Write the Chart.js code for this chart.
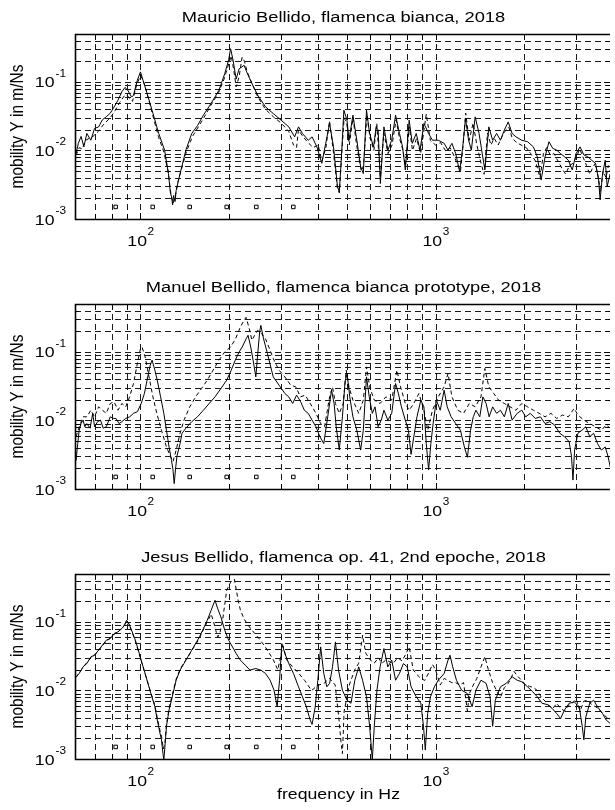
<!DOCTYPE html>
<html>
<head>
<meta charset="utf-8">
<script src="https://cdn.jsdelivr.net/npm/chart.js@4/dist/chart.umd.min.js"></script>
<style>
  body { margin: 0; background: #fff; overflow: hidden; }
  canvas { position: absolute; left: 0; }
</style>
</head>
<body>
<canvas id="p1" width="615" height="270" style="top:0px"></canvas>
<canvas id="p2" width="615" height="270" style="top:270px"></canvas>
<canvas id="p3" width="615" height="270" style="top:540px"></canvas>
<script>
// axis ranges and grid positions
const xRange = [60, 3900];
const yRange = [0.001, 0.5];
const xGrid = [70, 80, 90, 100, 200, 300, 400, 500, 600, 700, 800, 900, 1000, 2000, 3000];
const yGrid = [0.002, 0.003, 0.004, 0.005, 0.006, 0.007, 0.008, 0.009, 0.01,
               0.02, 0.03, 0.04, 0.05, 0.06, 0.07, 0.08, 0.09, 0.1, 0.2, 0.3, 0.4];
const xMajor = [100, 1000];
const yMajor = [0.001, 0.01, 0.1];
const xTickLabels = [['10', '2'], ['10', '3']];
const yTickLabels = [['10', '-3'], ['10', '-2'], ['10', '-1']];

// open string frequencies marked by the small squares
const stringFreqs = [82.41, 110, 146.83, 196, 246.94, 329.63];
const stringLevel = 0.0015;

const titles = [
  'Mauricio Bellido, flamenca bianca, 2018',
  'Manuel Bellido, flamenca bianca prototype, 2018',
  'Jesus Bellido, flamenca op. 41, 2nd epoche, 2018'
];

// [frequency Hz, mobility m/Ns]
const mauricioSolid = [
  [60.5,0.009],[61.6,0.0127],[62.9,0.016],[64.3,0.0113],[65.8,0.0177],[67.9,0.0141],[69.9,0.021],[72.1,0.022],
  [74.3,0.028],[76.6,0.031],[79,0.035],[81.4,0.043],[83.9,0.054],[86.5,0.072],[88.6,0.083],[90.5,0.076],
  [93.3,0.06],[94.7,0.064],[97.6,0.106],[100,0.14],[102,0.106],[105.3,0.068],[110.2,0.035],[115.3,0.0177],
  [120.7,0.0101],[124.4,0.0046],[126.3,0.0024],[127.5,0.0021],[128.5,0.0016],[129.5,0.0022],[131,0.0018],
  [132.1,0.0026],[136.2,0.0046],[142.5,0.0101],[149.2,0.0177],[156,0.023],[163.4,0.0327],[173.4,0.0483],
  [184.5,0.0757],[193,0.132],[199,0.21],[202,0.305],[206,0.207],[211,0.11],[215.9,0.155],[224.5,0.175],
  [229,0.14],[238.6,0.0946],[249.7,0.064],[265.3,0.0432],[281.8,0.0346],[299.5,0.0277],[318,0.0221],
  [333,0.0158],[343.2,0.0221],[353.8,0.0177],[370.3,0.0141],[381.6,0.0158],[396,0.0113],[411.6,0.0065],
  [424.3,0.0127],[437.4,0.0247],[451,0.0113],[465,0.003],[471.8,0.0025],[479,0.0072],[489,0.0387],
  [501,0.0277],[508.8,0.0141],[524.7,0.0327],[541,0.0141],[557.3,0.0058],[569,0.0046],[583.4,0.0387],
  [597.8,0.0177],[616,0.0113],[629.3,0.0221],[638.9,0.0198],[650,0.0033],[668.4,0.0221],[689,0.0101],
  [710,0.0141],[732,0.0327],[754.5,0.0177],[773,0.0113],[789.6,0.0052],[813.8,0.0277],[833.7,0.0127],
  [860,0.0177],[886,0.0101],[913,0.0247],[947,0.0177],[976,0.0141],[1021,0.0141],[1069,0.0127],
  [1102,0.0101],[1136,0.0127],[1170,0.009],[1207,0.0049],[1236,0.0113],[1263,0.0292],[1294,0.0141],
  [1322,0.0101],[1362,0.0309],[1404,0.0177],[1439,0.009],[1469,0.0052],[1515,0.0221],[1561,0.0141],
  [1610,0.0177],[1659,0.0141],[1710,0.0198],[1763,0.0261],[1817,0.0177],[1872,0.0158],[1959,0.0141],
  [2050,0.0134],[2145,0.0113],[2211,0.0081],[2280,0.0037],[2350,0.0081],[2423,0.0134],[2496,0.0107],
  [2573,0.0101],[2652,0.009],[2735,0.0081],[2818,0.0072],[2905,0.0052],[2994,0.009],[3087,0.0113],
  [3181,0.0086],[3279,0.0081],[3380,0.0072],[3484,0.0065],[3570,0.0037],[3610,0.0019],[3680,0.0046],
  [3758,0.0072],[3815,0.003],[3908,0.0046]
];
const mauricioDashed = [
  [60.5,0.0085],[62,0.011],[63.5,0.0105],[65,0.014],[67,0.015],[69,0.016],[72,0.019],[75,0.024],[79,0.03],
  [82,0.038],[85,0.05],[88,0.062],[90,0.064],[92,0.057],[94,0.052],[97,0.09],[100,0.125],[103,0.095],
  [106,0.06],[110,0.033],[115,0.016],[120,0.0095],[124,0.005],[127,0.0022],[129,0.0017],[131,0.0021],
  [134,0.0035],[138,0.0055],[143,0.0095],[150,0.016],[157,0.022],[164,0.03],[173,0.045],[184,0.07],
  [192,0.11],[198,0.17],[203,0.24],[207,0.15],[211,0.085],[216,0.12],[221,0.23],[225,0.2],[230,0.14],
  [240,0.09],[250,0.06],[265,0.04],[282,0.031],[300,0.025],[318,0.019],[330,0.012],[338,0.011],[343,0.02],
  [355,0.016],[370,0.013],[385,0.011],[400,0.012],[412,0.007],[425,0.011],[437,0.027],[450,0.01],
  [465,0.0028],[472,0.0024],[480,0.008],[490,0.03],[500,0.025],[510,0.012],[525,0.03],[540,0.012],
  [560,0.005],[570,0.006],[585,0.033],[600,0.015],[618,0.01],[632,0.025],[650,0.004],[668,0.018],
  [690,0.009],[712,0.012],[735,0.028],[755,0.015],[775,0.01],[790,0.006],[815,0.022],[835,0.01],
  [862,0.015],[890,0.009],[930,0.034],[960,0.014],[1000,0.012],[1040,0.013],[1080,0.01],[1120,0.011],
  [1160,0.008],[1190,0.006],[1215,0.005],[1240,0.012],[1265,0.035],[1300,0.014],[1340,0.025],[1380,0.012],
  [1420,0.007],[1460,0.0045],[1500,0.018],[1540,0.012],[1580,0.015],[1630,0.012],[1680,0.016],[1730,0.02],
  [1770,0.022],[1820,0.015],[1880,0.013],[1950,0.012],[2030,0.011],[2100,0.009],[2180,0.007],[2260,0.004],
  [2320,0.009],[2380,0.011],[2450,0.0085],[2520,0.009],[2600,0.007],[2680,0.0055],[2760,0.0045],
  [2840,0.006],[2920,0.0065],[3000,0.008],[3080,0.0105],[3160,0.008],[3250,0.006],[3330,0.0045],
  [3400,0.0055],[3480,0.0065],[3560,0.004],[3620,0.0025],[3700,0.005],[3780,0.004],[3850,0.006],[3908,0.005]
];

const manuelSolid = [
  [60.5,0.0026],[61.3,0.0046],[62,0.0072],[62.9,0.009],[63.9,0.0101],[64.8,0.0081],[65.8,0.009],[67.5,0.0077],
  [68.9,0.0127],[69.9,0.0081],[71.6,0.0096],[73.2,0.0101],[74.8,0.0077],[76.6,0.0081],[79,0.0113],
  [80.9,0.0107],[82.6,0.0107],[84.6,0.009],[86.5,0.0096],[89.1,0.0107],[91.9,0.0113],[94.7,0.0127],
  [97.6,0.0134],[100.6,0.0177],[103.1,0.0247],[105.3,0.0387],[107.9,0.064],[109.5,0.0757],[111.9,0.0541],
  [114,0.0387],[117,0.0221],[120,0.0127],[122.5,0.0072],[125,0.0041],[127.4,0.0026],[128.9,0.0019],
  [130.1,0.0012],[131.4,0.0019],[132.9,0.003],[136.2,0.0046],[138.3,0.0065],[142.5,0.0077],[149.2,0.0096],
  [156,0.0113],[163.4,0.0141],[171,0.0177],[178.9,0.0221],[187.3,0.0292],[196,0.0387],[203,0.0541],
  [209.5,0.0757],[216,0.1],[221.2,0.118],[228,0.155],[231.5,0.175],[236.4,0.118],[240.8,0.0757],[246,0.0432],
  [249.7,0.0946],[253.5,0.196],[255.8,0.244],[261.3,0.155],[269.3,0.0946],[281.8,0.0432],[294.9,0.0327],
  [308.7,0.0247],[318,0.0221],[328,0.0177],[338,0.0234],[348.5,0.019],[359.2,0.0141],[370.3,0.0127],
  [381.6,0.0101],[393.3,0.0081],[405.4,0.0058],[417.9,0.0046],[431,0.0113],[444.1,0.0277],[453,0.0177],
  [460.5,0.0081],[471.8,0.0037],[483.4,0.0113],[493.6,0.0366],[501.2,0.0483],[512,0.0221],[524.7,0.0113],
  [541,0.0072],[557.3,0.0037],[569,0.0072],[583.4,0.0432],[596,0.0221],[610.5,0.0127],[623.5,0.0158],
  [638.9,0.0081],[654.5,0.0101],[668.4,0.0141],[689,0.0101],[710.3,0.0127],[732,0.0346],[748,0.0247],
  [766,0.0158],[789.6,0.0101],[808.9,0.0072],[826,0.0032],[844,0.0058],[864.9,0.0113],[891.3,0.0198],
  [913,0.0158],[930,0.0046],[947,0.0019],[964,0.0046],[981,0.009],[1006,0.0198],[1037,0.0141],
  [1069,0.0277],[1095,0.0158],[1129,0.0113],[1170,0.009],[1214,0.0072],[1252,0.0041],[1282,0.0029],
  [1314,0.0072],[1342,0.0113],[1370,0.0141],[1412,0.0113],[1447,0.0221],[1483,0.0177],[1519,0.0113],
  [1561,0.0158],[1610,0.0127],[1659,0.0141],[1710,0.0113],[1763,0.0177],[1817,0.0101],[1890,0.0127],
  [1959,0.0141],[2020,0.0113],[2094,0.0127],[2177,0.0107],[2265,0.0113],[2350,0.009],[2437,0.0096],
  [2530,0.0086],[2636,0.0065],[2735,0.0058],[2835,0.0049],[2888,0.003],[2922,0.00135],[2958,0.0037],
  [3036,0.0065],[3132,0.0072],[3229,0.0081],[3330,0.0058],[3432,0.0065],[3537,0.0046],[3646,0.0037],
  [3758,0.0041],[3840,0.003],[3908,0.0021]
];
const manuelDashed = [
  [60.5,0.0058],[62,0.0081],[63.9,0.0113],[65.8,0.0113],[67.9,0.0141],[69.9,0.0113],[72.1,0.0158],
  [74.3,0.0141],[76.6,0.0127],[79,0.0177],[81.4,0.0187],[83.9,0.0141],[86.5,0.0177],[89.1,0.0158],
  [91.9,0.0221],[94.7,0.0346],[97.6,0.0676],[100,0.112],[101.2,0.118],[103.7,0.0846],[106.9,0.0432],
  [110.2,0.0221],[113.6,0.0127],[117.8,0.0072],[122.5,0.0041],[126.3,0.003],[128.9,0.0025],[132.1,0.0037],
  [136.2,0.0065],[140.4,0.0101],[146.9,0.0158],[153.8,0.0221],[160.9,0.0292],[168.4,0.0387],[176.2,0.0541],
  [184.5,0.0757],[193,0.1],[202,0.118],[210,0.155],[218,0.231],[224.5,0.29],[228,0.32],[233.6,0.22],
  [238.6,0.148],[243.8,0.175],[249.7,0.207],[257.3,0.185],[265.3,0.155],[273.5,0.112],[281.8,0.08],
  [294.9,0.0541],[308.7,0.0432],[323,0.0327],[336,0.0309],[348.5,0.0221],[361.4,0.0234],[376,0.0177],
  [393.3,0.0127],[408,0.009],[420.6,0.0081],[437.4,0.0221],[447.5,0.0309],[457.7,0.0177],[471.8,0.0127],
  [486.3,0.0177],[498,0.0541],[508.8,0.0309],[524.7,0.0198],[549,0.0127],[569,0.0198],[583.4,0.0605],
  [598,0.0309],[619.8,0.0198],[648.6,0.0177],[678.6,0.0221],[710.3,0.0198],[739.5,0.0541],[761,0.0309],
  [789.6,0.0177],[813.8,0.0141],[844,0.0177],[878,0.0247],[913,0.0141],[941,0.0072],[976,0.0141],
  [1021,0.0221],[1069,0.0309],[1102,0.0483],[1136,0.0221],[1189,0.0141],[1244,0.0127],[1302,0.0177],
  [1362,0.0158],[1425,0.0221],[1469,0.0572],[1515,0.0309],[1575,0.0247],[1634,0.0198],[1710,0.0177],
  [1789,0.0158],[1872,0.0141],[1959,0.0177],[2050,0.0158],[2145,0.0141],[2243,0.0127],[2350,0.0113],
  [2460,0.0127],[2573,0.0107],[2693,0.012],[2818,0.0113],[2949,0.015],[3036,0.012],[3181,0.0101],
  [3330,0.009],[3484,0.0081],[3646,0.0072],[3786,0.0086],[3908,0.0077]
];

const jesusSolid = [
  [60.5,0.0158],[62,0.0177],[63.9,0.0221],[65.8,0.0247],[67.9,0.0309],[69.9,0.0327],[72.1,0.0387],
  [74.3,0.0457],[76.6,0.0541],[79,0.0572],[81.4,0.0676],[83.9,0.0716],[86.5,0.08],[88.3,0.0895],
  [89.7,0.106],[91.3,0.0946],[93.3,0.0757],[96.1,0.0541],[99.1,0.0346],[102.1,0.0221],[105.3,0.0141],
  [108.5,0.009],[111.9,0.0058],[114,0.0037],[116.4,0.0024],[117.8,0.0019],[119.2,0.0012],[120,0.00097],
  [121,0.0015],[122.5,0.003],[125,0.0052],[128.2,0.0081],[132.1,0.0141],[136.2,0.0198],[140.4,0.0247],
  [144.7,0.0309],[149.2,0.0387],[153.8,0.0483],[158.5,0.0605],[163.4,0.08],[168.4,0.106],[173.6,0.148],
  [178.9,0.207],[182.8,0.155],[187.3,0.118],[193,0.0757],[199,0.0541],[205,0.0432],[211,0.0346],
  [218,0.0277],[226.5,0.0234],[235,0.0198],[246,0.0209],[255.8,0.0198],[265.3,0.0177],[275,0.0141],
  [283.5,0.0101],[290.5,0.0058],[296,0.0141],[301.3,0.0483],[308.7,0.0346],[318,0.0247],[330,0.0177],
  [343.2,0.0113],[353.8,0.0081],[364.7,0.0058],[376,0.0037],[381.6,0.0032],[391,0.0058],[399,0.0141],
  [408,0.0432],[418,0.0177],[428,0.0113],[437.4,0.0127],[447.5,0.0221],[457.7,0.0511],[469,0.0198],
  [483.4,0.0101],[501.2,0.0072],[516.8,0.0065],[532.7,0.0141],[549,0.0221],[565.7,0.0141],[583.4,0.0081],
  [597.8,0.003],[610.5,0.00097],[619.8,0.003],[633,0.0101],[648.6,0.0221],[668.4,0.0409],[689,0.0221],
  [710.3,0.0277],[732,0.0141],[754.5,0.0177],[778,0.0247],[801.6,0.0221],[826,0.0113],[860,0.0081],
  [891.3,0.0065],[910,0.003],[923,0.00135],[940,0.0046],[961,0.0081],[991,0.0113],[1021,0.0141],
  [1069,0.0177],[1102,0.0277],[1119,0.0327],[1143,0.0221],[1177,0.0141],[1225,0.0101],[1282,0.009],
  [1330,0.0058],[1370,0.0101],[1425,0.0141],[1483,0.0127],[1530,0.0081],[1561,0.003],[1594,0.0072],
  [1659,0.0113],[1736,0.0127],[1817,0.0158],[1890,0.0141],[1959,0.0134],[2050,0.0113],[2132,0.0096],
  [2211,0.0081],[2294,0.0065],[2400,0.0062],[2480,0.0055],[2573,0.0046],[2652,0.0039],[2735,0.0052],
  [2835,0.0065],[2949,0.0068],[3067,0.0058],[3140,0.003],[3181,0.0019],[3229,0.0041],[3330,0.0065],
  [3432,0.0072],[3537,0.0058],[3680,0.0046],[3786,0.0037],[3908,0.0033]
];
const jesusDashed = [
  [60.5,0.0155],[62,0.018],[64,0.022],[66,0.026],[68,0.03],[70,0.033],[72,0.038],[74.3,0.045],[76.6,0.052],
  [79,0.058],[81.4,0.066],[84,0.072],[86.5,0.081],[88.3,0.09],[89.7,0.104],[91.3,0.092],[93.3,0.074],
  [96,0.053],[99,0.034],[102,0.022],[105,0.0145],[108.5,0.0092],[112,0.006],[114,0.004],[116.5,0.0026],
  [118,0.0021],[119.5,0.0014],[121,0.0017],[122.5,0.0032],[125,0.0055],[128,0.0085],[132,0.0145],
  [136,0.02],[140,0.025],[145,0.031],[149,0.038],[154,0.047],[158.5,0.058],[163.4,0.077],[168.4,0.1],
  [173.6,0.13],[177,0.1],[180,0.075],[182.8,0.06],[186,0.07],[190,0.11],[196,0.29],[202,0.38],[208,0.42],
  [211,0.3],[214.6,0.2],[218,0.15],[224.5,0.11],[236,0.08],[250,0.06],[265,0.043],[282,0.028],[292,0.02],
  [298,0.03],[304,0.045],[313,0.028],[328,0.022],[343,0.018],[360,0.014],[380,0.01],[400,0.012],
  [417,0.0125],[437,0.015],[457,0.012],[470,0.004],[478,0.0018],[483.4,0.0012],[490,0.005],[510,0.012],
  [532,0.02],[549,0.025],[566,0.064],[580,0.035],[600,0.028],[620,0.025],[640,0.03],[658,0.025],[680,0.028],
  [700,0.026],[720,0.025],[744,0.03],[770,0.027],[790,0.033],[814,0.043],[840,0.02],[865,0.017],[891,0.015],
  [919,0.014],[947,0.018],[976,0.024],[1000,0.02],[1037,0.012],[1070,0.015],[1100,0.014],[1136,0.013],
  [1170,0.013],[1207,0.012],[1244,0.013],[1282,0.005],[1302,0.009],[1342,0.012],[1380,0.015],[1425,0.022],
  [1469,0.031],[1510,0.02],[1560,0.013],[1610,0.01],[1660,0.008],[1710,0.011],[1760,0.0125],[1800,0.015],
  [1844,0.019],[1900,0.016],[1960,0.014],[2020,0.012],[2080,0.0115],[2150,0.011],[2211,0.01],[2280,0.008],
  [2350,0.007],[2420,0.006],[2500,0.0055],[2573,0.0065],[2650,0.0055],[2735,0.005],[2818,0.006],
  [2905,0.0065],[2994,0.0075],[3087,0.005],[3181,0.007],[3280,0.0072],[3380,0.0062],[3484,0.0058],
  [3591,0.0052],[3700,0.0045],[3815,0.004],[3908,0.0037]
];

const FONT = '"Liberation Sans", Arial, Helvetica, sans-serif';
const STRETCH = 1.18;   // the source text is a bit wide

// horizontal text, stretched like the source
function wideText(ctx, str, x, y, size, align) {
  ctx.save();
  ctx.font = size + 'px ' + FONT;
  ctx.translate(x, y);
  ctx.scale(STRETCH, 1);
  ctx.textAlign = align;
  ctx.textBaseline = 'alphabetic';
  ctx.fillText(str, 0, 0);
  ctx.restore();
}
function wideWidth(ctx, str, size) {
  ctx.font = size + 'px ' + FONT;
  return ctx.measureText(str).width * STRETCH;
}

// matlab-ish axes: dashed grid, inward ticks, frame, 10^n labels, titles
const matlabAxes = {
  id: 'matlabAxes',
  beforeDatasetsDraw(chart) {
    const { ctx, chartArea: a, scales: { x, y } } = chart;
    ctx.save();
    ctx.strokeStyle = '#1a1a1a';
    ctx.lineWidth = 1;
    ctx.setLineDash([6, 4]);
    xGrid.forEach(v => {
      const px = Math.round(x.getPixelForValue(v)) + 0.5;
      ctx.beginPath(); ctx.moveTo(px, a.top); ctx.lineTo(px, a.bottom); ctx.stroke();
    });
    yGrid.forEach(v => {
      const py = Math.round(y.getPixelForValue(v)) + 0.5;
      ctx.beginPath(); ctx.moveTo(a.left, py); ctx.lineTo(a.right, py); ctx.stroke();
    });
    ctx.restore();
  },
  afterDraw(chart, args, opts) {
    const { ctx, chartArea: a, scales: { x, y } } = chart;
    ctx.save();
    ctx.strokeStyle = '#000';
    ctx.lineWidth = 1;
    // ticks
    xGrid.forEach(v => {
      const px = Math.round(x.getPixelForValue(v)) + 0.5;
      const len = xMajor.includes(v) ? 6 : 5;
      ctx.beginPath();
      ctx.moveTo(px, a.bottom); ctx.lineTo(px, a.bottom - len);
      ctx.moveTo(px, a.top); ctx.lineTo(px, a.top + len);
      ctx.stroke();
    });
    yGrid.concat(yMajor).forEach(v => {
      const py = Math.round(y.getPixelForValue(v)) + 0.5;
      const len = yMajor.includes(v) ? 6 : 4;
      ctx.beginPath();
      ctx.moveTo(a.left, py); ctx.lineTo(a.left + len, py);
      ctx.moveTo(a.right, py); ctx.lineTo(a.right - len, py);
      ctx.stroke();
    });
    // frame
    ctx.lineWidth = 1.6;
    ctx.beginPath();
    ctx.moveTo(a.right, a.top + 0.5);
    ctx.lineTo(a.left + 0.5, a.top + 0.5);
    ctx.lineTo(a.left + 0.5, a.bottom + 0.5);
    ctx.lineTo(a.right, a.bottom + 0.5);
    ctx.stroke();

    ctx.fillStyle = '#000';
    // x tick labels
    xMajor.forEach((v, i) => {
      const [base, sup] = xTickLabels[i];
      const bw = wideWidth(ctx, base, 15);
      const sw = wideWidth(ctx, sup, 10);
      const left = x.getPixelForValue(v) - (bw + sw) / 2;
      wideText(ctx, base, left, a.bottom + 27, 15, 'left');
      wideText(ctx, sup, left + bw + 0.5, a.bottom + 16, 10, 'left');
    });
    // y tick labels
    yMajor.forEach((v, i) => {
      const [base, sup] = yTickLabels[i];
      const py = y.getPixelForValue(v);
      const sw = wideWidth(ctx, sup, 10);
      const right = a.left - 9;
      wideText(ctx, sup, right - sw, py - 5, 10, 'left');
      wideText(ctx, base, right - sw - 1, py + 5.5, 15, 'right');
    });
    // titles
    const cx = (a.left + a.right) / 2;
    wideText(ctx, opts.title, cx + 1, 22, 15.5, 'center');
    if (opts.xLabel) wideText(ctx, opts.xLabel, cx - 4, a.bottom + 40, 15, 'center');
    // y label
    ctx.save();
    ctx.font = '15.5px ' + FONT;
    ctx.translate(23, (a.top + a.bottom) / 2);
    ctx.scale(STRETCH, 1);
    ctx.rotate(-Math.PI / 2);
    ctx.textAlign = 'center';
    ctx.fillText('mobility Y in m/Ns', 0, 0);
    ctx.restore();
    ctx.restore();
  }
};

function toPoints(pairs) {
  return pairs.map(p => ({ x: p[0], y: p[1] }));
}

function makePanel(id, title, solid, dashed, xLabel) {
  const ctx = document.getElementById(id).getContext('2d');
  new Chart(ctx, {
    type: 'line',
    data: {
      datasets: [{
        data: toPoints(solid),
        borderColor: '#000',
        borderWidth: 1,
        pointRadius: 0,
        tension: 0
      }, {
        data: toPoints(dashed),
        borderColor: '#000',
        borderWidth: 1,
        borderDash: [4, 3],
        pointRadius: 0,
        tension: 0
      }, {
        data: stringFreqs.map(f => ({ x: f, y: stringLevel })),
        showLine: false,
        pointStyle: 'rect',
        pointRadius: 2.5,
        borderColor: '#000',
        borderWidth: 1,
        backgroundColor: '#fff'
      }]
    },
    options: {
      responsive: false,
      animation: false,
      events: [],
      parsing: false,
      layout: { padding: { left: 75, top: 34, right: 0, bottom: 51 } },
      scales: {
        x: { type: 'logarithmic', min: xRange[0], max: xRange[1], display: false },
        y: { type: 'logarithmic', min: yRange[0], max: yRange[1], display: false }
      },
      plugins: {
        legend: { display: false },
        tooltip: { enabled: false },
        matlabAxes: { title: title, xLabel: xLabel }
      }
    },
    plugins: [matlabAxes]
  });
}

makePanel('p1', titles[0], mauricioSolid, mauricioDashed, null);
makePanel('p2', titles[1], manuelSolid, manuelDashed, null);
makePanel('p3', titles[2], jesusSolid, jesusDashed, 'frequency in Hz');
</script>
</body>
</html>
